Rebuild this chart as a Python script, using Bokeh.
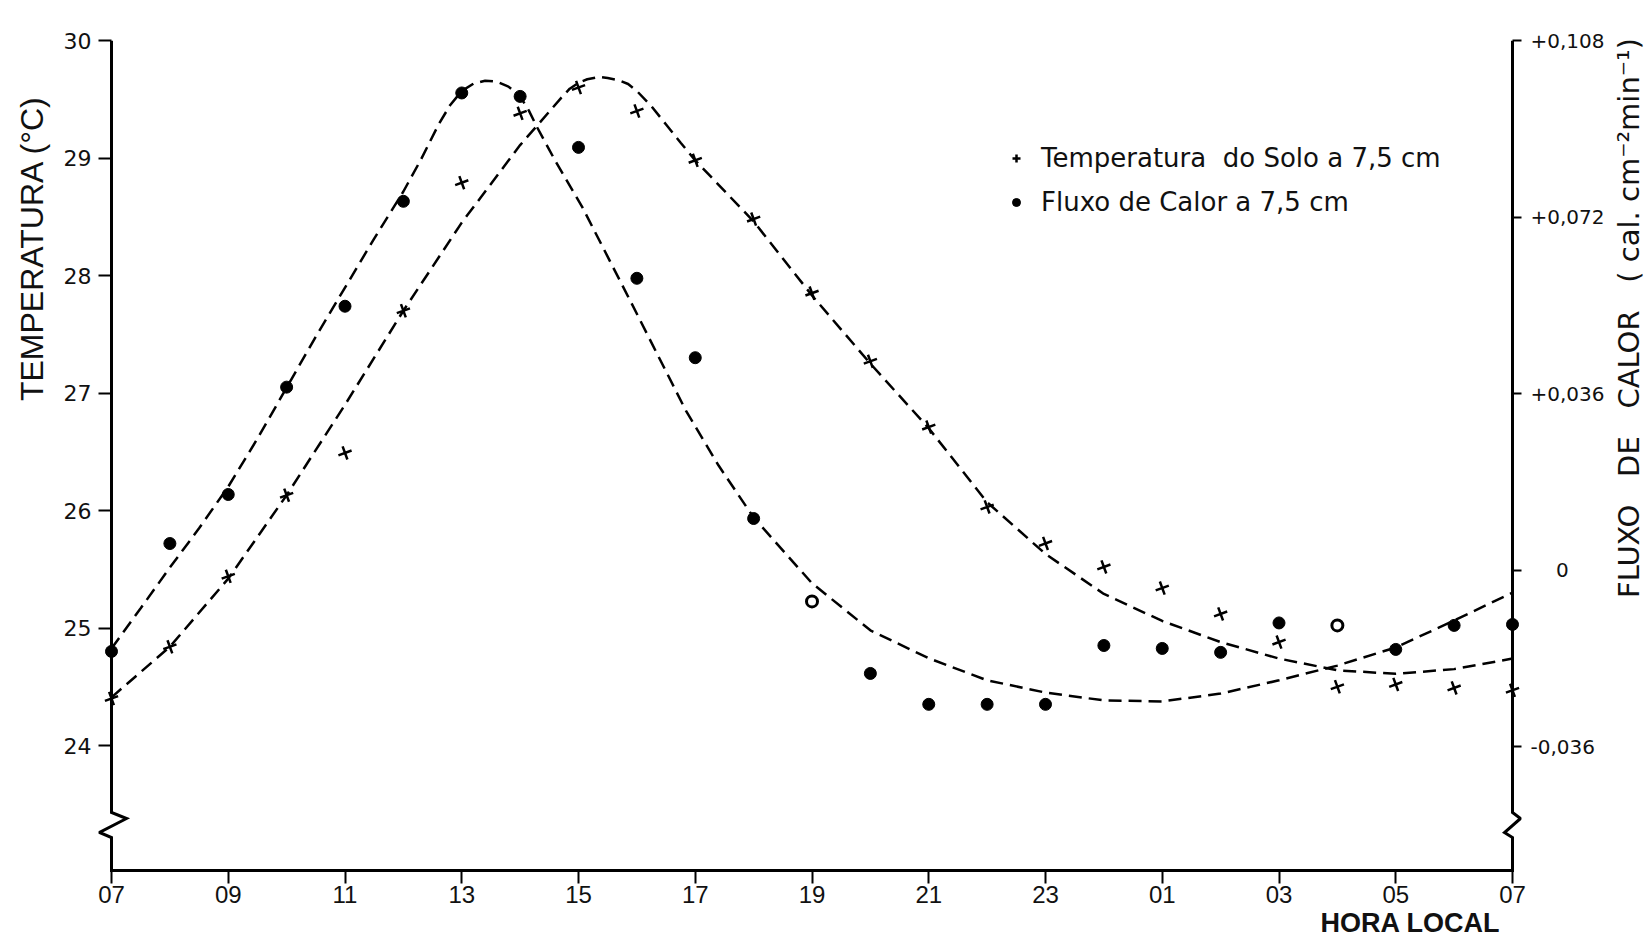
from math import pi
from bokeh.plotting import figure
from bokeh.layouts import row
from bokeh.models import Range1d, LinearAxis, FixedTicker, Legend, LegendItem, Title
from bokeh.core.properties import value
from bokeh.embed import file_html
from bokeh.resources import INLINE

# ---------------- data ----------------
# hour offsets after 07h local time, 0..24
hours = list(range(25))
hour_names = ["07", "08", "09", "10", "11", "12", "13", "14", "15", "16", "17", "18",
              "19", "20", "21", "22", "23", "00", "01", "02", "03", "04", "05", "06", "07"]

# soil temperature at 7.5 cm (deg C)
temp_solo = [24.40, 24.84, 25.44, 26.13, 26.49, 27.70, 28.79, 29.38, 29.60, 29.40,
             28.98, 28.48, 27.85, 27.27, 26.71, 26.03, 25.72, 25.52, 25.34, 25.12,
             24.88, 24.50, 24.52, 24.49, 24.47]

# heat flux at 7.5 cm (cal cm-2 min-1)
fluxo = [-0.0166, 0.0054, 0.0154, 0.0373, 0.0538, 0.0752, 0.0973, 0.0966, 0.0862,
         0.0595, 0.0433, 0.0105, -0.0064, -0.0211, -0.0274, -0.0274, -0.0274,
         -0.0154, -0.0160, -0.0168, -0.0108, -0.0113, -0.0162, -0.0113, -0.0111]
open_points = [12, 21]   # points printed as open rings

# hand-fitted dashed curves
temp_curve_h = [0, 1, 2, 3, 4, 5, 6, 7, 7.3, 7.7, 7.85, 8.0, 8.15, 8.35, 8.5, 8.7, 8.85,
                9.0, 9.25, 9.5, 9.75, 10, 11, 12, 13, 14, 15, 16, 17, 18, 19, 20, 21,
                22, 23, 24]
temp_curve_v = [24.41, 24.84, 25.42, 26.13, 26.90, 27.70, 28.45, 29.11, 29.28, 29.51,
                29.59, 29.64, 29.67, 29.69, 29.68, 29.66, 29.63, 29.57, 29.44, 29.285,
                29.13, 28.98, 28.46, 27.83, 27.25, 26.70, 26.07, 25.63, 25.29, 25.06,
                24.88, 24.74, 24.64, 24.61, 24.65, 24.74]

flux_curve_h = [0, 0.5, 1, 1.5, 2, 2.5, 3, 3.5, 4, 4.5, 5, 5.3, 5.6, 5.8, 6.0, 6.2, 6.4,
                6.6, 6.8, 7.0, 7.15, 7.3, 7.6, 8.07, 8.9, 9.84, 10.4, 11, 12, 13, 14, 15,
                16, 17, 18, 19, 20, 21, 22, 23, 24]
flux_curve_v = [-0.0160, -0.0078, 0.0005, 0.0085, 0.0170, 0.0268, 0.0372, 0.0476, 0.0576,
                0.0676, 0.0772, 0.0837, 0.0908, 0.0948, 0.0977, 0.0992, 0.0998, 0.0996,
                0.0986, 0.0966, 0.0937, 0.0901, 0.0835, 0.0739, 0.0546, 0.0325, 0.0213,
                0.0107, -0.0027, -0.0123, -0.0180, -0.0225, -0.0250, -0.0266, -0.0268,
                -0.0252, -0.0225, -0.0195, -0.0158, -0.0103, -0.0046]

x_ticks = [0, 2, 4, 6, 8, 10, 12, 14, 16, 18, 20, 22, 24]
x_tick_labels = ["07", "09", "11", "13", "15", "17", "19", "21", "23", "01", "03", "05", "07"]
temp_ticks = [24, 25, 26, 27, 28, 29, 30]
flux_ticks = [-0.036, 0.0, 0.036, 0.072, 0.108]
flux_tick_labels = ["-0,036", "\u2007\u20070", "+0,036", "+0,072", "+0,108"]

GAP = "\u00a0\u00a0 "
title_left = "TEMPERATURA (°C)"
title_right = "FLUXO" + GAP + "DE" + GAP + "CALOR" + GAP + "( cal. cm\u207b\u00b2min\u207b\u00b9)"
title_bottom = "HORA LOCAL"

# ---------------- geometry ----------------
PX_HR = 1401 / 24      # pixels per hour
PX_DEG = 117.5         # pixels per degree
T_TOP = 30.0
T_AXIS = 30.0 - 830 / PX_DEG   # level of the drawn bottom axis line
T_FRAME_BOTTOM = T_AXIS - 3 / PX_DEG
FLUX_TOP = 0.108
FLUX_PER_DEG = 0.036 / 176.5 * PX_DEG
flux_bottom = FLUX_TOP - (T_TOP - T_FRAME_BOTTOM) * FLUX_PER_DEG
PAD_L, PAD_R = 13, 9   # frame padding (px) outside the drawn vertical axes = tick lengths

x_start = -PAD_L / PX_HR
x_end = 24 + PAD_R / PX_HR
frame_w = int(round((x_end - x_start) * PX_HR))
frame_h = int(round((T_TOP - T_FRAME_BOTTOM) * PX_DEG))

p = figure(frame_width=frame_w, frame_height=frame_h,
           x_range=Range1d(x_start, x_end), y_range=Range1d(T_FRAME_BOTTOM, T_TOP),
           output_backend="svg", toolbar_location=None,
           x_axis_location=None, y_axis_location=None,
           min_border_left=97, min_border_right=88, min_border_top=40, min_border_bottom=0)
p.extra_y_ranges = {"flux": Range1d(flux_bottom, FLUX_TOP)}
p.outline_line_color = None
p.background_fill_color = "white"
p.border_fill_color = "white"
p.grid.visible = False


def style_axis(ax, font, size, tick_in, tick_out, standoff):
    ax.axis_line_color = None
    ax.major_tick_line_color = "black"
    ax.major_tick_line_width = 2
    ax.major_tick_in = tick_in
    ax.major_tick_out = tick_out
    ax.minor_tick_line_color = None
    ax.major_label_text_font = font
    ax.major_label_text_font_size = size
    ax.major_label_text_color = "#111111"
    ax.major_label_standoff = standoff


left = LinearAxis(ticker=FixedTicker(ticks=temp_ticks))
style_axis(left, "DejaVu Sans", "22px", PAD_L, 0, 7)
p.add_layout(left, "left")

right = LinearAxis(y_range_name="flux", ticker=FixedTicker(ticks=flux_ticks),
                   major_label_overrides=dict(zip(flux_ticks, flux_tick_labels)))
style_axis(right, "DejaVu Sans", "20px", PAD_R, 0, 9)
p.add_layout(right, "right")

bottom = LinearAxis(ticker=FixedTicker(ticks=x_ticks),
                    major_label_overrides=dict(zip(x_ticks, x_tick_labels)))
style_axis(bottom, "Liberation Sans", "24px", 3, 10, 2)
p.add_layout(bottom, "below")

p.add_layout(Title(text=title_left, align="right", offset=55, standoff=22,
                   text_font="Liberation Sans", text_font_size="32px",
                   text_font_style="normal", text_color="#111111"), "left")
p.add_layout(Title(text=title_bottom, align="right", offset=21, standoff=0,
                   text_font="Liberation Sans", text_font_size="27px",
                   text_font_style="bold", text_color="#111111"), "below")


# axis frame with the broken-axis zigzags
def ty(px_from_top):
    return T_TOP - (px_from_top - 40) / PX_DEG


zz_y = [ty(812), ty(818), ty(832), ty(837)]
zl = [0, 15 / PX_HR, -12 / PX_HR, 0]
zr = [0, 8 / PX_HR, -8 / PX_HR, 0]
frame_x = [0] + zl + [0, 24] + [24 + d for d in reversed(zr)] + [24]
frame_y = [T_TOP] + zz_y + [T_AXIS, T_AXIS] + list(reversed(zz_y)) + [T_TOP]
p.line(frame_x, frame_y, line_color="black", line_width=3, line_join="miter")

# dashed curves
p.line(temp_curve_h, temp_curve_v, line_color="black", line_width=2.5, line_dash="13 7")
p.line(flux_curve_h, flux_curve_v, y_range_name="flux", line_color="black",
       line_width=2.5, line_dash="13 7")

# points
r_t = p.scatter(hours, temp_solo, marker="cross", angle=0.35, size=14,
                line_color="black", line_width=2.5)
fill_h = [h for i, h in enumerate(hours) if i not in open_points]
fill_v = [v for i, v in enumerate(fluxo) if i not in open_points]
open_h = [hours[i] for i in open_points]
open_v = [fluxo[i] for i in open_points]
r_f = p.scatter(fill_h, fill_v, y_range_name="flux", marker="circle", size=12,
                fill_color="black", line_color="black")
p.scatter(open_h, open_v, y_range_name="flux", marker="circle", size=11,
          fill_color="white", line_color="black", line_width=3)

legend = Legend(items=[LegendItem(label="Temperatura  do Solo a 7,5 cm", renderers=[r_t]),
                       LegendItem(label="Fluxo de Calor a 7,5 cm", renderers=[r_f])],
                location=(908, 656), orientation="vertical",
                border_line_color=None, background_fill_alpha=0,
                label_text_font="DejaVu Sans", label_text_font_size="26px",
                label_text_color="#111111",
                glyph_width=20, glyph_height=24, label_height=24,
                label_standoff=15, spacing=14, padding=0, margin=0)
p.add_layout(legend)

# narrow strip at the right holding the right-hand axis title (reads bottom to top)
STRIP_W, STRIP_H = 38, 940
q = figure(width=STRIP_W, height=STRIP_H, x_range=Range1d(0, 1), y_range=Range1d(STRIP_H, 0),
           output_backend="svg", toolbar_location=None,
           x_axis_location=None, y_axis_location=None, min_border=0)
q.outline_line_color = None
q.grid.visible = False
q.text(x=[0.5], y=[312], text=[title_right], angle=pi / 2,
       text_align="center", text_baseline="middle",
       text_font=value("DejaVu Sans"), text_font_size=value("29px"), text_color="#111111")

layout = row(p, q)
open("out.html", "w").write(file_html(layout, INLINE))
